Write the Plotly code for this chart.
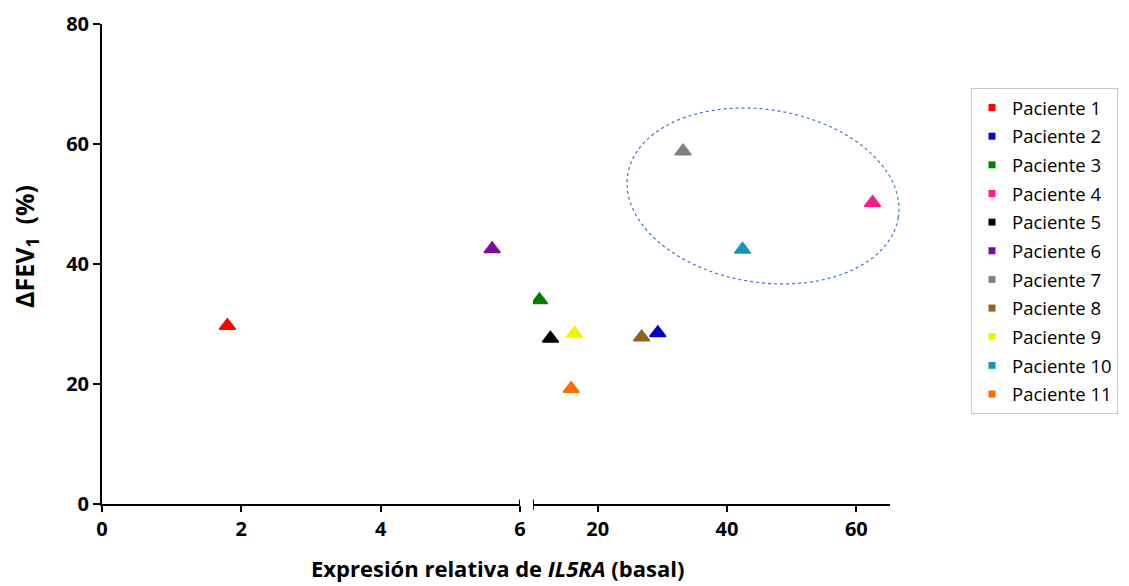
import numpy as np
import plotly.graph_objects as go

# ---------------- data ----------------
patients = [f"Paciente {i}" for i in range(1, 12)]
expresion_il5ra = [1.8, 29.3, 11.0, 62.5, 12.7, 5.6, 33.2, 26.8, 16.4, 42.4, 15.9]
delta_fev1 = [29.7, 28.5, 34.0, 50.2, 27.6, 42.5, 58.8, 27.8, 28.4, 42.4, 19.2]
colors = ["#ff0000", "#0000c8", "#008000", "#ff1a85", "#000000", "#7d0aa0",
          "#808080", "#93601f", "#f2f200", "#1496b4", "#ff6a00"]

x_ticks_left = [0, 2, 4, 6]
x_ticks_right = [20, 40, 60]
y_ticks = [0, 20, 40, 60, 80]
break_left = 6      # end of the first x segment
break_right = 10    # start of the second x segment
right_max = 65.2
y_max = 80

# ---------------- geometry ----------------
OFF = 8                      # page body margin
W, H = 1129 - OFF, 586 - OFF
REF_L, REF_R, REF_T, REF_B = 102, 890, 24, 504   # plot area in page pixels
ML, MT = REF_L - OFF, REF_T - OFF
MR, MB = W - (REF_R - OFF), H - (REF_B - OFF)
PW, PH = REF_R - REF_L, REF_B - REF_T


def fx(px):
    return (px - REF_L) / PW


def fy(py):
    return (REF_B - py) / PH


dom_left = [0, fx(520)]
dom_right = [fx(533), 1]

FONT = "Open Sans"

fig = go.Figure()
for name, xv, yv, c in zip(patients, expresion_il5ra, delta_fev1, colors):
    axis = "x" if xv <= break_left else "x2"
    fig.add_trace(go.Scatter(
        x=[xv], y=[yv], mode="markers", xaxis=axis, yaxis="y",
        marker=dict(symbol="triangle-up", size=14, color=c, line=dict(color=c, width=1.5)),
        name=name, legendgroup=name, showlegend=False))
    fig.add_trace(go.Scatter(
        x=[None], y=[None], mode="markers", xaxis=axis, yaxis="y",
        marker=dict(symbol="square", size=7, color=c),
        name=name, legendgroup=name, showlegend=True))

axis_common = dict(
    ticks="outside", ticklen=6, tickwidth=2, tickcolor="black",
    showline=True, linewidth=2, linecolor="black",
    showgrid=False, zeroline=False, fixedrange=True, automargin=False,
    tickfont=dict(family=FONT, size=20, color="black", weight="bold"),
)

fig.update_layout(
    width=W, height=H,
    margin=dict(l=ML, r=MR, t=MT, b=MB, pad=0, autoexpand=False),
    paper_bgcolor="white", plot_bgcolor="white",
    xaxis=dict(domain=dom_left, range=[0, break_left], tickvals=x_ticks_left,
               anchor="y", **axis_common),
    xaxis2=dict(domain=dom_right, range=[break_right, right_max], tickvals=x_ticks_right,
                anchor="y", **axis_common),
    yaxis=dict(range=[0, y_max], tickvals=y_ticks, anchor="x",
               **{**axis_common, "ticklen": 7}),
    legend=dict(
        xref="container", yref="paper",
        x=(971 - OFF) / W, y=fy(88), xanchor="left", yanchor="top",
        bordercolor="#c8c8c8", borderwidth=1, bgcolor="white",
        font=dict(family=FONT, size=18.5, color="black"),
        traceorder="grouped", tracegroupgap=1.6, itemsizing="trace",
        maxheight=1,
    ),
    showlegend=True,
)

# axis titles
fig.add_annotation(
    x=fx(497.5), y=fy(568), xref="paper", yref="paper",
    xanchor="center", yanchor="middle", showarrow=False,
    text="<b>Expresión relativa de <i>IL5RA</i> (basal)</b>",
    font=dict(family=FONT, size=22, color="black"))
fig.add_annotation(
    x=fx(25), y=fy(247), xref="paper", yref="paper",
    xanchor="center", yanchor="middle", showarrow=False, textangle=-90,
    text="<b>ΔFEV<sub>1</sub>  (%)</b>",
    font=dict(family=FONT, size=25, color="black"))

# axis break marks
for xv, xr in [(break_left, "x"), (break_right, "x2")]:
    fig.add_shape(type="line", xref=xr, yref="paper", x0=xv, x1=xv,
                  y0=-5.5 / PH, y1=4.5 / PH, line=dict(color="black", width=2))

# dotted ellipse highlighting patients 4, 7 and 10
cx, cy, a, b, th = 763, 196, 137, 86.4, np.deg2rad(9)
t = np.linspace(0, 2 * np.pi, 120)
px = cx + a * np.cos(t) * np.cos(th) - b * np.sin(t) * np.sin(th)
py = cy + a * np.cos(t) * np.sin(th) + b * np.sin(t) * np.cos(th)
path = "M" + " L".join(f"{fx(x):.4f},{fy(y):.4f}" for x, y in zip(px, py)) + " Z"
fig.add_shape(type="path", path=path, xref="paper", yref="paper",
              line=dict(color="#4472c4", width=1.2, dash="dot"))

fig.write_html("out.html")
